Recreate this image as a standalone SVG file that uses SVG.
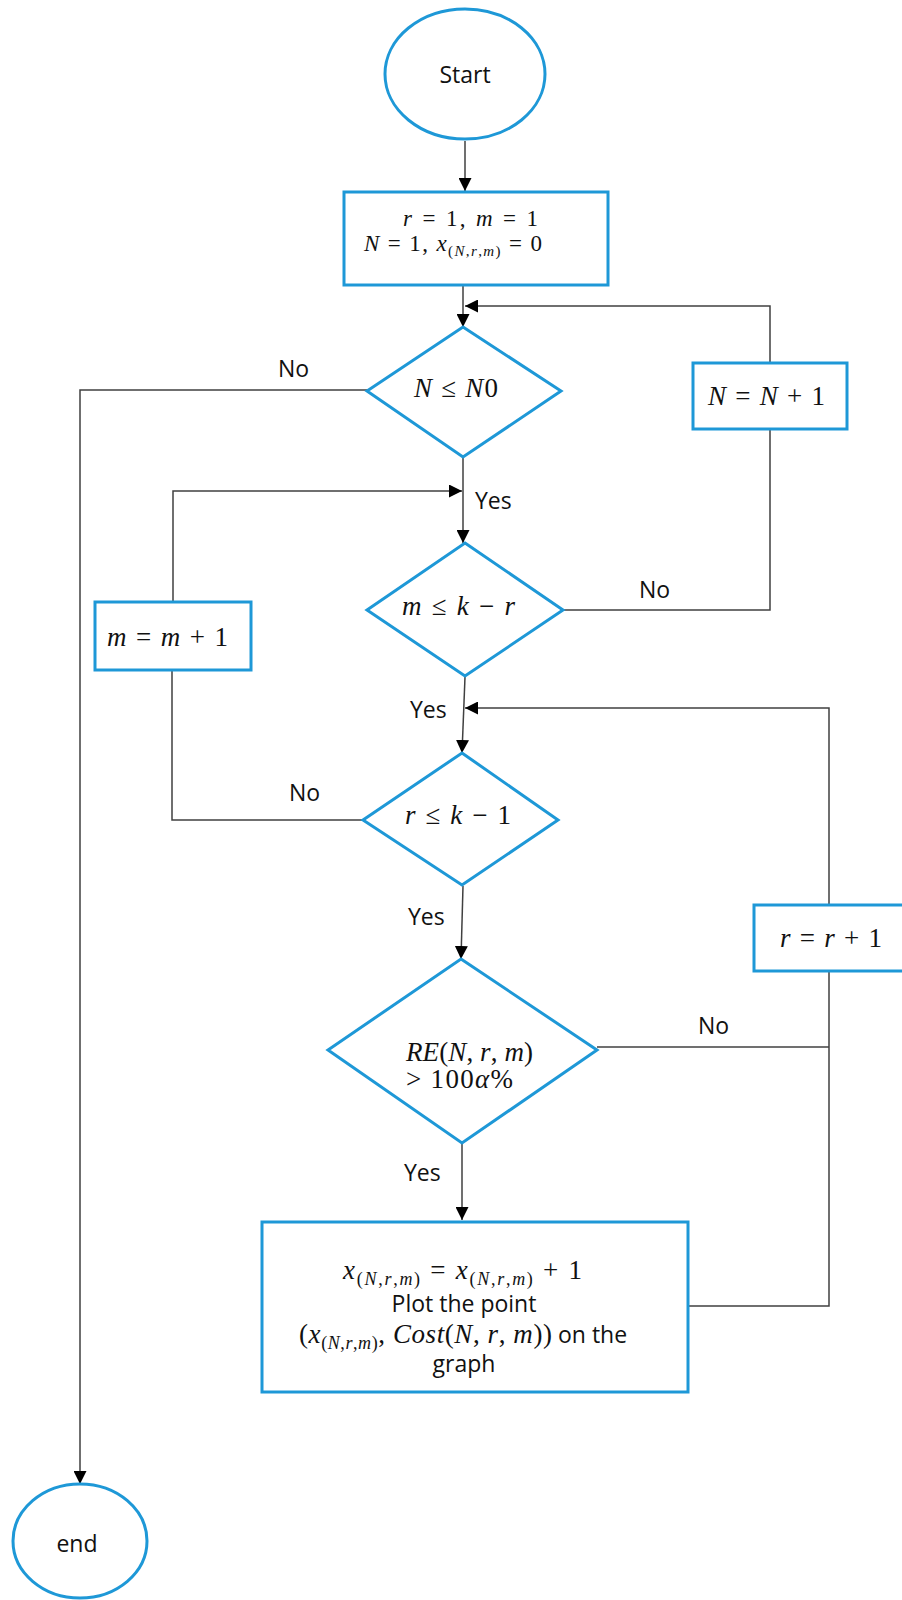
<svg xmlns="http://www.w3.org/2000/svg" width="902" height="1600" viewBox="0 0 902 1600">
<style>
.shape{fill:#fff;stroke:#1e98d7;stroke-width:3}
.c{fill:none;stroke:#404040;stroke-width:1.5}
.t{font-family:"Open Sans","Liberation Sans",sans-serif;font-size:23px;fill:#111}
.m{font-family:"Liberation Serif","DejaVu Serif",serif;font-size:27px;fill:#111}
.m2{font-family:"Liberation Serif","DejaVu Serif",serif;font-size:23px;fill:#111}
.i{font-style:italic}
.s{font-size:18px}
.s2{font-size:15px}
</style>
<defs>
<marker id="arr" markerUnits="userSpaceOnUse" markerWidth="13" markerHeight="13" refX="13" refY="6.5" orient="auto">
<path d="M0,0 L13,6.5 L0,13 z" fill="#000"/>
</marker>
</defs>
<rect width="902" height="1600" fill="#fff"/>
<g id="connectors">
<path class="c" d="M465,141 V191" marker-end="url(#arr)"/>
<path class="c" d="M463,286 V327" marker-end="url(#arr)"/>
<path class="c" d="M770,363 V306 H465" marker-end="url(#arr)"/>
<path class="c" d="M367,390 H80 V1484" marker-end="url(#arr)"/>
<path class="c" d="M463,458 V543" marker-end="url(#arr)"/>
<path class="c" d="M173,602 V491 H462" marker-end="url(#arr)"/>
<path class="c" d="M563,610 H770 V429"/>
<path class="c" d="M465,677 L462,753" marker-end="url(#arr)"/>
<path class="c" d="M363,820 H172 V670"/>
<path class="c" d="M829,905 V708 H465" marker-end="url(#arr)"/>
<path class="c" d="M463,886 L461,959" marker-end="url(#arr)"/>
<path class="c" d="M597,1047 H829"/>
<path class="c" d="M688,1306 H829 V971"/>
<path class="c" d="M462,1144 V1220" marker-end="url(#arr)"/>
</g>
<g id="labels">
<text class="t" x="278" y="377">No</text>
<text class="t" x="475" y="509">Yes</text>
<text class="t" x="639" y="598">No</text>
<text class="t" x="410" y="718">Yes</text>
<text class="t" x="289" y="801">No</text>
<text class="t" x="408" y="925">Yes</text>
<text class="t" x="698" y="1034">No</text>
<text class="t" x="404" y="1181">Yes</text>
</g>
<g id="start">
<ellipse class="shape" cx="465" cy="74" rx="80" ry="65"/>
<text class="t" x="465" y="83" text-anchor="middle">Start</text>
</g>
<g id="init">
<rect class="shape" x="344" y="192" width="264" height="93"/>
<text class="m2" x="403" y="226" textLength="135" lengthAdjust="spacing"><tspan class="i">r</tspan> = 1, <tspan class="i">m</tspan> = 1</text>
<text class="m2" x="364" y="251" textLength="178" lengthAdjust="spacing"><tspan class="i">N</tspan> = 1, <tspan class="i">x</tspan><tspan class="s2" dy="5">(<tspan class="i">N</tspan>,<tspan class="i">r</tspan>,<tspan class="i">m</tspan>)</tspan><tspan dy="-5"> = 0</tspan></text>
</g>
<g id="dec-N">
<polygon class="shape" points="463,327 561,391 463,457 367,391"/>
<text class="m" x="414" y="397" textLength="84" lengthAdjust="spacing"><tspan class="i">N</tspan> ≤ <tspan class="i">N</tspan>0</text>
</g>
<g id="inc-N">
<rect class="shape" x="693" y="363" width="154" height="66"/>
<text class="m" x="708" y="405" textLength="117" lengthAdjust="spacing"><tspan class="i">N</tspan> = <tspan class="i">N</tspan> + 1</text>
</g>
<g id="dec-m">
<polygon class="shape" points="465,543 563,610 465,676 367,610"/>
<text class="m" x="402" y="615" textLength="113" lengthAdjust="spacing"><tspan class="i">m</tspan> ≤ <tspan class="i">k</tspan> − <tspan class="i">r</tspan></text>
</g>
<g id="inc-m">
<rect class="shape" x="95" y="602" width="156" height="68"/>
<text class="m" x="107" y="646" textLength="121" lengthAdjust="spacing"><tspan class="i">m</tspan> = <tspan class="i">m</tspan> + 1</text>
</g>
<g id="dec-r">
<polygon class="shape" points="462,753 558,820 462,885 363,820"/>
<text class="m" x="405" y="824" textLength="106" lengthAdjust="spacing"><tspan class="i">r</tspan> ≤ <tspan class="i">k</tspan> − 1</text>
</g>
<g id="inc-r">
<rect class="shape" x="754" y="905" width="152" height="66"/>
<text class="m" x="780" y="947" textLength="102" lengthAdjust="spacing"><tspan class="i">r</tspan> = <tspan class="i">r</tspan> + 1</text>
</g>
<g id="dec-RE">
<polygon class="shape" points="461,959 597,1050 462,1143 328,1050"/>
<text class="m" x="406" y="1061" textLength="127" lengthAdjust="spacing"><tspan class="i">RE</tspan>(<tspan class="i">N</tspan>, <tspan class="i">r</tspan>, <tspan class="i">m</tspan>)</text>
<text class="m" x="406" y="1088" textLength="107" lengthAdjust="spacing">&gt; 100<tspan class="i">α</tspan>%</text>
</g>
<g id="plot">
<rect class="shape" x="262" y="1222" width="426" height="170"/>
<text class="m" x="343" y="1279" textLength="239" lengthAdjust="spacing"><tspan class="i">x</tspan><tspan class="s" dy="6">(<tspan class="i">N</tspan>,<tspan class="i">r</tspan>,<tspan class="i">m</tspan>)</tspan><tspan dy="-6"> = </tspan><tspan class="i">x</tspan><tspan class="s" dy="6">(<tspan class="i">N</tspan>,<tspan class="i">r</tspan>,<tspan class="i">m</tspan>)</tspan><tspan dy="-6"> + 1</tspan></text>
<text class="t" x="464" y="1312" text-anchor="middle">Plot the point</text>
<text class="m" x="299" y="1343" textLength="253" lengthAdjust="spacing">(<tspan class="i">x</tspan><tspan class="s" dy="6">(<tspan class="i">N</tspan>,<tspan class="i">r</tspan>,<tspan class="i">m</tspan>)</tspan><tspan dy="-6">, </tspan><tspan class="i">Cost</tspan>(<tspan class="i">N</tspan>, <tspan class="i">r</tspan>, <tspan class="i">m</tspan>))</text>
<text class="t" x="558" y="1343">on the</text>
<text class="t" x="464" y="1372" text-anchor="middle">graph</text>
</g>
<g id="end">
<ellipse class="shape" cx="80" cy="1541" rx="67" ry="57"/>
<text class="t" x="77" y="1552" text-anchor="middle">end</text>
</g>
</svg>
